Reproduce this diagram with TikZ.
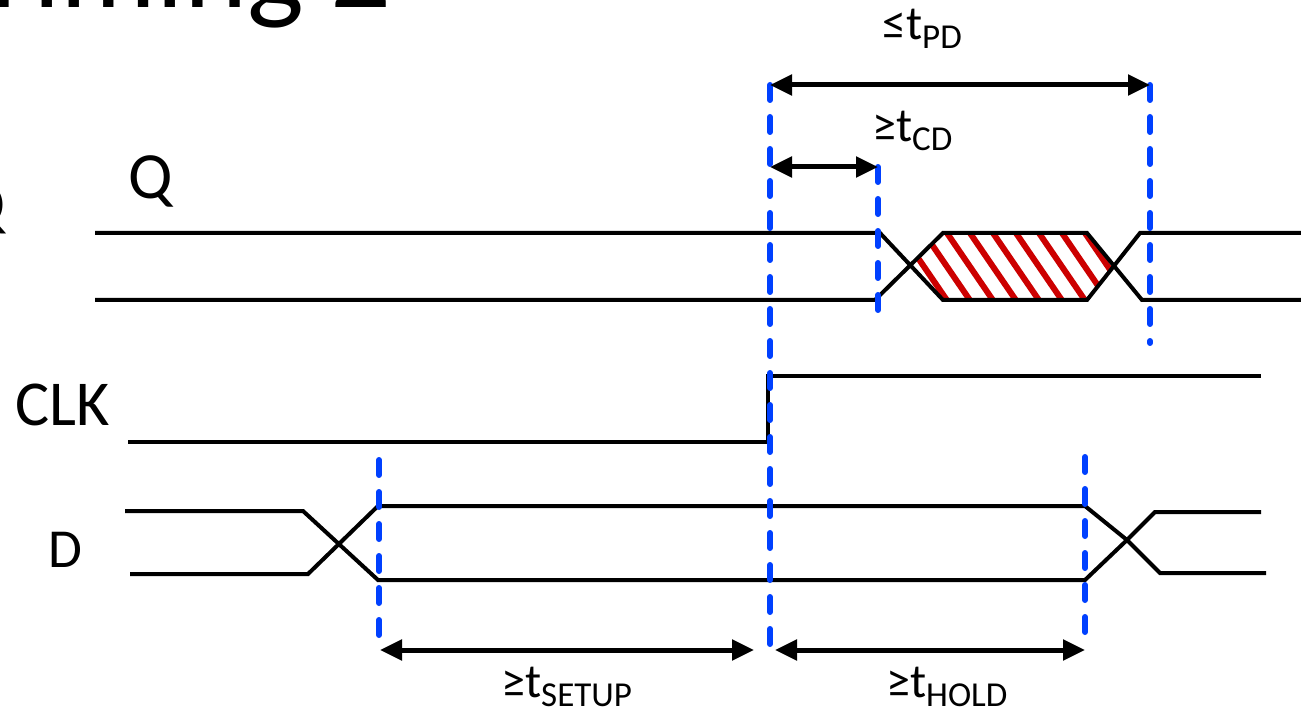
\documentclass[tikz,border=0pt]{standalone}
\usepackage{fontspec}
\setmainfont{Carlito}
\usetikzlibrary{arrows.meta}
\definecolor{guideblue}{RGB}{0,64,255}
\definecolor{hatchred}{RGB}{204,0,0}
\newcommand\timelbl[2]{{\fontsize{48}{48}\selectfont #1t}\raisebox{-9pt}{\fontsize{35}{35}\selectfont #2}}
\tikzset{
  sig/.style={draw=black, line width=4pt},
  guide/.style={draw=guideblue, line width=6pt, line cap=round, dash pattern=on 15pt off 17pt},
  dimarrow/.style={draw=black, line width=5pt, {Triangle[length=22pt,width=20pt]}-{Triangle[length=22pt,width=20pt]}},
  lbl/.style={inner sep=0pt, anchor=base west},
  hatchline/.style={draw=hatchred, line width=6pt}
}
\begin{document}
\begin{tikzpicture}[x=1pt,y=-1pt]
\useasboundingbox (0,0) rectangle (1301,711);
\clip (0,0) rectangle (1301,711);
% partial title and cut label
\node[inner sep=0pt, anchor=base east] (title) at (392,8) {\fontsize{120}{120}\selectfont Timing 2};
\node[inner sep=0pt, anchor=base east] (cutq) at (6,226) {\fontsize{64}{64}\selectfont Q};
% signal labels
\node[lbl] (qlbl) at (128,199) {\fontsize{66}{66}\selectfont Q};
\node[lbl] (clklbl) at (15,425) {\fontsize{64}{64}\selectfont CLK};
\node[lbl] (dlbl) at (48,567) {\fontsize{55}{55}\selectfont D};
% hatch
\begin{scope}
  \clip (909,267) -- (943,233) -- (1087,233) -- (1115,267) -- (1087,300) -- (943,300) -- cycle;
  \foreach \i in {0,...,14} \draw[hatchline] (849.5+23*\i,225) -- ++(54,79);
\end{scope}
% Q waveform
\draw[sig] (95,233) -- (880,233) -- (943,300) -- (1087,300) -- (1140,233) -- (1301,233);
\draw[sig] (95,300) -- (875,300) -- (943,233) -- (1087,233) -- (1142,300) -- (1301,300);
% CLK
\draw[sig] (128,442) -- (768,442) -- (768,376) -- (1261,376);
% D waveform
\draw[sig] (125,511) -- (303,511) -- (378,580) -- (1085,580) -- (1127,540) -- (1160,573) -- (1266,573);
\draw[sig] (130,574) -- (308,574) -- (378,506) -- (1085,506) -- (1127,540) -- (1155,512) -- (1261,512);
% guide coordinates
\coordinate (g1t) at (770,85);  \coordinate (g1b) at (770,648);
\coordinate (g2t) at (878,167); \coordinate (g2b) at (878,320);
\coordinate (g3t) at (1150,85); \coordinate (g3b) at (1150,343);
\coordinate (g4t) at (379,460); \coordinate (g4b) at (379,648);
\coordinate (g5t) at (1085,457); \coordinate (g5b) at (1085,646);
\draw[guide] (g1t) -- (g1b);
\draw[guide] (g2t) -- (g2b);
\draw[guide] (g3t) -- (g3b);
\draw[guide] (g4t) -- (g4b);
\draw[guide] (g5t) -- (g5b);
% dimension arrows
\coordinate (pdl) at (770,85);  \coordinate (pdr) at (1150,85);
\coordinate (cdl) at (770,167); \coordinate (cdr) at (878,167);
\coordinate (sul) at (380,650); \coordinate (sur) at (754,650);
\coordinate (hol) at (775,650); \coordinate (hor) at (1085,650);
\draw[dimarrow] (pdl) -- (pdr);
\draw[dimarrow] (cdl) -- (cdr);
\draw[dimarrow] (sul) -- (sur);
\draw[dimarrow] (hol) -- (hor);
% dimension labels
\node[lbl] (pdlbl) at (882,40) {\timelbl{≤}{PD}};
\node[lbl] (cdlbl) at (872,142) {\timelbl{≥}{CD}};
\node[lbl] (sulbl) at (501,697) {\timelbl{≥}{SETUP}};
\node[lbl] (holbl) at (886,697) {\timelbl{≥}{HOLD}};
\end{tikzpicture}
\end{document}
